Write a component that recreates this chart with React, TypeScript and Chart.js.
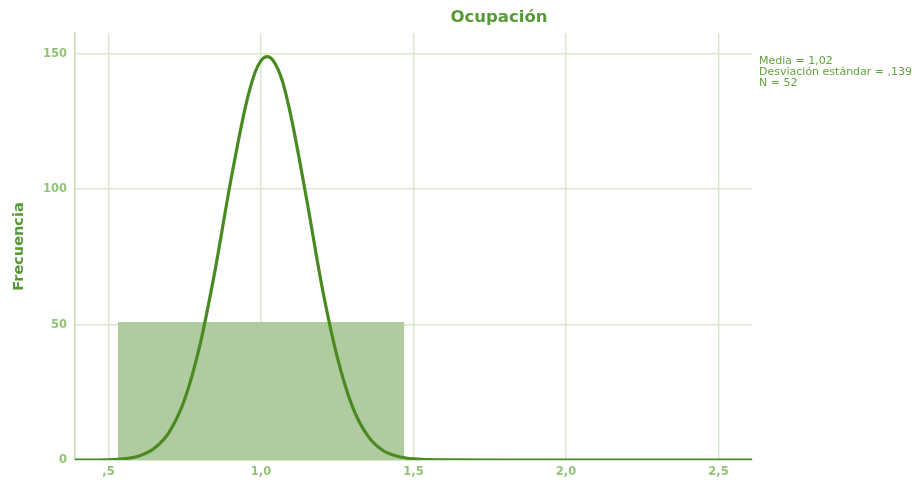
import React, { useEffect, useRef } from "react";
import { Chart, registerables } from "chart.js";

Chart.register(...registerables);

// Histogram bin
const binStart = [0.53];
const binEnd = [1.47];
const binCount = [51];

// Normal curve points
const curveX = [0.39, 0.5, 0.6, 0.65, 0.7, 0.75, 0.8, 0.85, 0.9, 0.95, 0.98, 1.0, 1.02, 1.04, 1.07, 1.1, 1.15, 1.2, 1.25, 1.3, 1.35, 1.4, 1.45, 1.5, 1.6, 1.8, 2.2, 2.61];
const curveY = [0, 0.1, 1.5, 4.3, 10.5, 22.5, 42.6, 70.5, 102.7, 131, 143, 147.5, 149, 147.5, 140, 126, 96, 64, 38, 19.6, 8.9, 3.5, 1.3, 0.4, 0.05, 0, 0, 0];

const xTickValues = [0.5, 1.0, 1.5, 2.0, 2.5];
const xTickLabels = [",5", "1,0", "1,5", "2,0", "2,5"];
const yTickValues = [0, 50, 100, 150];
const yTickLabels = ["0", "50", "100", "150"];

const titleText = "Ocupación";
const yAxisTitle = "Frecuencia";
const statsLines = ["Media = 1,02", "Desviación estándar = ,139", "N = 52"];

const FONT = "'DejaVu Sans', Verdana, sans-serif";

export default function App() {
  const ref = useRef<HTMLCanvasElement | null>(null);

  useEffect(() => {
    if (!ref.current) return;
    const histData: { x: number; y: number }[] = [];
    binStart.forEach((s, i) => {
      histData.push({ x: s, y: 0 }, { x: s, y: binCount[i] }, { x: binEnd[i], y: binCount[i] }, { x: binEnd[i], y: 0 });
    });
    const curveData = curveX.map((x, i) => ({ x, y: curveY[i] }));

    const textPlugin = {
      id: "texts",
      afterDraw(chart: any) {
        const ctx = chart.ctx;
        ctx.save();
        ctx.fillStyle = "#559a34";
        ctx.font = `bold 16.5px ${FONT}`;
        ctx.textAlign = "center";
        ctx.textBaseline = "middle";
        ctx.fillText(titleText, 499, 18);
        ctx.fillStyle = "#62a23c";
        ctx.font = `11px ${FONT}`;
        ctx.textAlign = "left";
        statsLines.forEach((t, i) => ctx.fillText(t, 759, 61 + i * 11));
        ctx.restore();
      },
    };

    const chart = new Chart(ref.current, {
      type: "line",
      data: {
        datasets: [
          {
            data: curveData,
            borderColor: "#4a8a22",
            borderWidth: 3.2,
            pointRadius: 0,
            cubicInterpolationMode: "monotone",
            fill: false,
          },
          {
            data: histData,
            borderWidth: 0,
            borderColor: "rgba(0,0,0,0)",
            backgroundColor: "#b1cba0",
            pointRadius: 0,
            tension: 0,
            fill: "origin",
          },
        ],
      },
      options: {
        animation: false,
        responsive: true,
        maintainAspectRatio: false,
        layout: { padding: { top: 33, right: 168, bottom: 0, left: 0 } },
        plugins: { legend: { display: false }, tooltip: { enabled: false }, title: { display: false } },
        scales: {
          x: {
            type: "linear",
            min: 0.39,
            max: 2.61,
            afterBuildTicks: (s: any) => {
              s.ticks = xTickValues.map((v) => ({ value: v }));
            },
            afterFit: (s: any) => {
              s.height = 22;
            },
            ticks: {
              callback: (v: any) => {
                const i = xTickValues.indexOf(Number(v));
                return i >= 0 ? xTickLabels[i] : "";
              },
              color: "#92c277",
              font: { size: 11.5, family: FONT, weight: "bold" },
              padding: 5,
              maxRotation: 0,
              autoSkip: false,
            },
            grid: { color: "#dae8d0", lineWidth: 1.5, drawTicks: false },
            border: { color: "#c5ddb6", width: 1.5 },
          },
          y: {
            type: "linear",
            min: 0,
            max: 157.7,
            afterBuildTicks: (s: any) => {
              s.ticks = yTickValues.map((v) => ({ value: v }));
            },
            afterFit: (s: any) => {
              s.width = 75;
            },
            ticks: {
              callback: (v: any) => {
                const i = yTickValues.indexOf(Number(v));
                return i >= 0 ? yTickLabels[i] : "";
              },
              color: "#92c277",
              font: { size: 11.5, family: FONT, weight: "bold" },
              padding: 8,
            },
            grid: { color: "#dae8d0", lineWidth: 1.5, drawTicks: false },
            border: { color: "#c5ddb6", width: 1.5 },
            title: {
              display: true,
              text: yAxisTitle,
              color: "#559a34",
              font: { size: 14.5, weight: "bold", family: FONT },
              padding: { top: 11, bottom: 0 },
            },
          },
        },
      },
      plugins: [textPlugin],
    } as any);
    return () => chart.destroy();
  }, []);

  return (
    <div style={{ position: "fixed", left: 0, top: 0, width: 920, height: 482, background: "#fff" }}>
      <canvas ref={ref} />
    </div>
  );
}
